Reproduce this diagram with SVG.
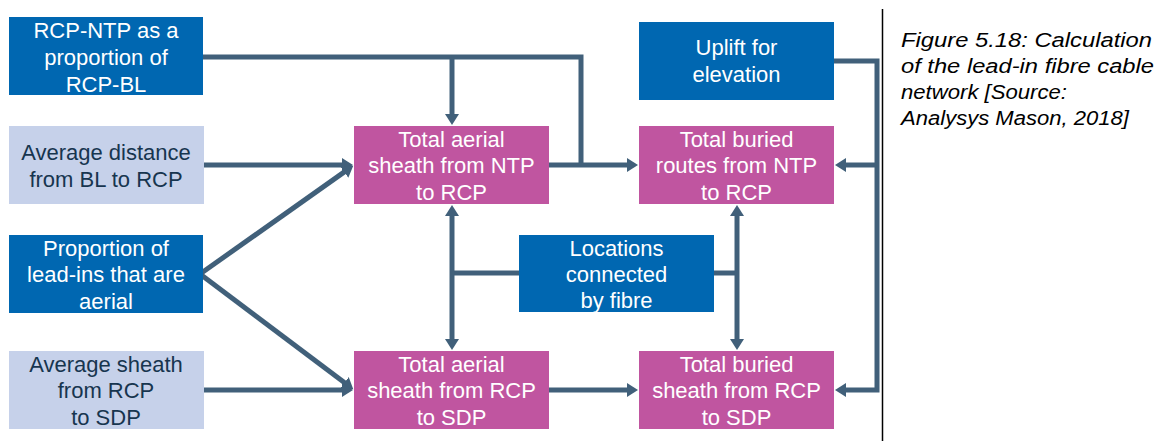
<svg xmlns="http://www.w3.org/2000/svg" width="1157" height="441" viewBox="0 0 1157 441">
<style>
.c{fill:none;stroke:#41607a;stroke-width:5}
.a{marker-end:url(#ah)}
.b{marker-start:url(#ah);marker-end:url(#ah)}
.dk{fill:#0067b1}
.lt{fill:#c6d1ea}
.mg{fill:#c055a0}
text{font-family:"Liberation Sans",Arial,sans-serif;font-size:22px;text-anchor:middle}
.w{fill:#ffffff}
.n{fill:#17354f}
.cap{font-style:italic;font-size:20.5px;text-anchor:start;fill:#000000}
</style>
<defs>
<marker id="ah" markerUnits="userSpaceOnUse" markerWidth="14" markerHeight="16" refX="1" refY="7" orient="auto-start-reverse" viewBox="0 0 14 16">
<path d="M0,0 L11,7 L0,14 z" fill="#41607a"/>
</marker>
</defs>
<g id="connectors">
<path class="c" d="M203,57 H581 V167"/>
<path class="c a" d="M452,57 V115"/>
<path class="c a" d="M549,165 H628"/>
<path class="c a" d="M204,165 H343"/>
<path class="c a" d="M200,274 L345.1,171.4"/>
<path class="c a" d="M200,274 L345.3,383.3"/>
<path class="c a" d="M204,390 H343"/>
<path class="c a" d="M549,390 H628"/>
<path class="c a" d="M834,61 H877 V390 H845"/>
<path class="c a" d="M877,165 H845"/>
<path class="c" d="M519,273 H452"/>
<path class="c b" d="M452,215 V340"/>
<path class="c" d="M714,273 H737"/>
<path class="c b" d="M737,215 V340"/>
</g>
<g id="rcp-ntp-proportion">
<rect class="dk" x="9" y="17" width="194" height="78"/>
<text class="w" x="106" y="38">RCP-NTP as a</text>
<text class="w" x="106" y="65">proportion of</text>
<text class="w" x="106" y="92">RCP-BL</text>
</g>
<g id="avg-distance">
<rect class="lt" x="9" y="126" width="195" height="78"/>
<text class="n" x="106" y="160">Average distance</text>
<text class="n" x="106" y="187">from BL to RCP</text>
</g>
<g id="proportion-aerial">
<rect class="dk" x="9" y="235" width="194" height="78"/>
<text class="w" x="106" y="256">Proportion of</text>
<text class="w" x="106" y="282">lead-ins that are</text>
<text class="w" x="106" y="309">aerial</text>
</g>
<g id="avg-sheath">
<rect class="lt" x="9" y="351" width="195" height="78"/>
<text class="n" x="106" y="372">Average sheath</text>
<text class="n" x="106" y="398">from RCP</text>
<text class="n" x="106" y="425">to SDP</text>
</g>
<g id="aerial-ntp-rcp">
<rect class="mg" x="354" y="126" width="195" height="78"/>
<text class="w" x="451.5" y="147">Total aerial</text>
<text class="w" x="451.5" y="173">sheath from NTP</text>
<text class="w" x="451.5" y="200">to RCP</text>
</g>
<g id="uplift">
<rect class="dk" x="639" y="22" width="195" height="78"/>
<text class="w" x="736.5" y="55">Uplift for</text>
<text class="w" x="736.5" y="82">elevation</text>
</g>
<g id="buried-ntp-rcp">
<rect class="mg" x="639" y="126" width="195" height="78"/>
<text class="w" x="736.5" y="147">Total buried</text>
<text class="w" x="736.5" y="173">routes from NTP</text>
<text class="w" x="736.5" y="200">to RCP</text>
</g>
<g id="locations">
<rect class="dk" x="519" y="235" width="195" height="77"/>
<text class="w" x="616.5" y="256">Locations</text>
<text class="w" x="616.5" y="282">connected</text>
<text class="w" x="616.5" y="308">by fibre</text>
</g>
<g id="aerial-rcp-sdp">
<rect class="mg" x="354" y="351" width="195" height="78"/>
<text class="w" x="451.5" y="372">Total aerial</text>
<text class="w" x="451.5" y="398">sheath from RCP</text>
<text class="w" x="451.5" y="425">to SDP</text>
</g>
<g id="buried-rcp-sdp">
<rect class="mg" x="639" y="351" width="195" height="78"/>
<text class="w" x="736.5" y="372">Total buried</text>
<text class="w" x="736.5" y="398">sheath from RCP</text>
<text class="w" x="736.5" y="425">to SDP</text>
</g>
<g id="caption">
<line x1="882.5" y1="9" x2="882.5" y2="441" stroke="#000000" stroke-width="1.5"/>
<text class="cap" x="901" y="47" textLength="251" lengthAdjust="spacingAndGlyphs">Figure 5.18: Calculation</text>
<text class="cap" x="901" y="73" textLength="253" lengthAdjust="spacingAndGlyphs">of the lead-in fibre cable</text>
<text class="cap" x="901" y="99" textLength="166" lengthAdjust="spacingAndGlyphs">network [Source:</text>
<text class="cap" x="901" y="125" textLength="228" lengthAdjust="spacingAndGlyphs">Analysys Mason, 2018]</text>
</g>
</svg>
